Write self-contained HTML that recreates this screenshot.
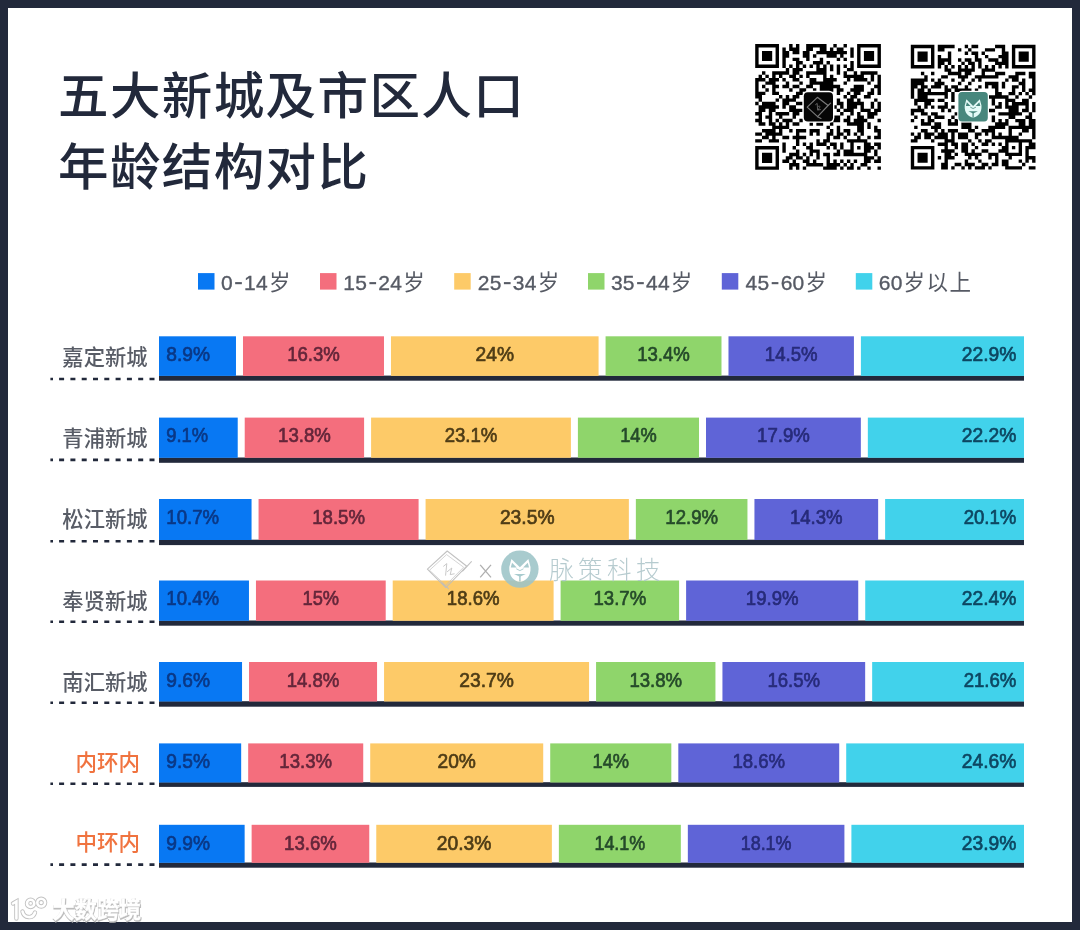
<!DOCTYPE html>
<html lang="zh">
<head>
<meta charset="utf-8">
<title>五大新城及市区人口年龄结构对比</title>
<style>
html,body{margin:0;padding:0;background:#22293b;}
body{width:1080px;height:930px;overflow:hidden;font-family:"Liberation Sans",sans-serif;}
svg{display:block;font-family:"Liberation Sans",sans-serif;filter:blur(0.45px);}
.cjk{font-family:"Liberation Sans","Noto Sans CJK SC",sans-serif;}
</style>
</head>
<body>
<svg width="1080" height="930" viewBox="0 0 1080 930">
<rect x="0" y="0" width="1080" height="930" fill="#22293b"/>
<rect x="8" y="8" width="1064" height="914" fill="#ffffff"/>
<g fill="#22293b">
<text class="cjk" x="58.00" y="113.50" font-size="50.50" font-weight="500" textLength="465.70" stroke="none">五大新城及市区人口</text>
</g>
<g fill="#22293b">
<text class="cjk" x="58.00" y="184.50" font-size="50.50" font-weight="500" textLength="310.00" stroke="none">年龄结构对比</text>
</g>
<rect x="198.0" y="273.1" width="16.5" height="16.5" fill="#0878f3"/>
<rect x="235.15" y="282.1" width="6.7" height="2.1" fill="#565a64"/>
<text x="220.90 244.10 256.05" y="289.90" font-size="21.00" fill="#565a64" stroke="#565a64" stroke-width="0.35">014</text>
<g fill="#565a64">
<text class="cjk" x="268.90" y="290.20" font-size="21.50" textLength="21.50" stroke="none">岁</text>
</g>
<rect x="320.0" y="273.1" width="16.5" height="16.5" fill="#f46e7d"/>
<rect x="369.40" y="282.1" width="6.7" height="2.1" fill="#565a64"/>
<text x="343.20 355.15 378.35 390.30" y="289.90" font-size="21.00" fill="#565a64" stroke="#565a64" stroke-width="0.35">1524</text>
<g fill="#565a64">
<text class="cjk" x="403.15" y="290.20" font-size="21.50" textLength="21.50" stroke="none">岁</text>
</g>
<rect x="454.2" y="273.1" width="16.5" height="16.5" fill="#fdca68"/>
<rect x="503.90" y="282.1" width="6.7" height="2.1" fill="#565a64"/>
<text x="477.70 489.65 512.85 524.80" y="289.90" font-size="21.00" fill="#565a64" stroke="#565a64" stroke-width="0.35">2534</text>
<g fill="#565a64">
<text class="cjk" x="537.65" y="290.20" font-size="21.50" textLength="21.50" stroke="none">岁</text>
</g>
<rect x="588.0" y="273.1" width="16.5" height="16.5" fill="#8fd56b"/>
<rect x="637.10" y="282.1" width="6.7" height="2.1" fill="#565a64"/>
<text x="610.90 622.85 646.05 658.00" y="289.90" font-size="21.00" fill="#565a64" stroke="#565a64" stroke-width="0.35">3544</text>
<g fill="#565a64">
<text class="cjk" x="670.85" y="290.20" font-size="21.50" textLength="21.50" stroke="none">岁</text>
</g>
<rect x="721.8" y="273.1" width="16.5" height="16.5" fill="#5f64d7"/>
<rect x="771.70" y="282.1" width="6.7" height="2.1" fill="#565a64"/>
<text x="745.50 757.45 780.65 792.60" y="289.90" font-size="21.00" fill="#565a64" stroke="#565a64" stroke-width="0.35">4560</text>
<g fill="#565a64">
<text class="cjk" x="805.45" y="290.20" font-size="21.50" textLength="21.50" stroke="none">岁</text>
</g>
<rect x="855.8" y="273.1" width="16.5" height="16.5" fill="#41d2eb"/>
<text x="878.70 890.65" y="289.90" font-size="21.00" fill="#565a64" stroke="#565a64" stroke-width="0.35">60</text>
<g fill="#565a64">
<text class="cjk" x="903.50" y="290.20" font-size="21.50" textLength="67.50" stroke="none">岁以上</text>
</g>
<line x1="50.4" x2="156" y1="379.00" y2="379.00" stroke="#22293b" stroke-width="2.6" stroke-dasharray="2.6 6.1 5 6.3 5 6.3 5 6.3 5 6.3 5 6.3 5 6.3 5 6.3 5 6.3 5 200"/>
<rect x="159.0" y="375.60" width="865.0" height="5.10" fill="#22293b"/>
<rect x="159.00" y="336.30" width="76.98" height="39.60" fill="#0878f3"/>
<text x="166.30" y="361.10" font-size="20.60" fill="#0a3886" stroke="#0a3886" stroke-width="0.7" stroke-linejoin="round" textLength="43.70" lengthAdjust="spacingAndGlyphs">8.9%</text>
<rect x="242.99" y="336.30" width="141.00" height="39.60" fill="#f46e7d"/>
<text x="287.13" y="361.10" font-size="20.60" fill="#64263a" stroke="#64263a" stroke-width="0.7" stroke-linejoin="round" textLength="52.70" lengthAdjust="spacingAndGlyphs">16.3%</text>
<rect x="390.98" y="336.30" width="207.60" height="39.60" fill="#fdca68"/>
<text x="475.58" y="361.10" font-size="20.60" fill="#4e3c16" stroke="#4e3c16" stroke-width="0.7" stroke-linejoin="round" textLength="38.40" lengthAdjust="spacingAndGlyphs">24%</text>
<rect x="605.58" y="336.30" width="115.91" height="39.60" fill="#8fd56b"/>
<text x="637.19" y="361.10" font-size="20.60" fill="#254a2a" stroke="#254a2a" stroke-width="0.7" stroke-linejoin="round" textLength="52.70" lengthAdjust="spacingAndGlyphs">13.4%</text>
<rect x="728.49" y="336.30" width="125.43" height="39.60" fill="#5f64d7"/>
<text x="764.85" y="361.10" font-size="20.60" fill="#272b7a" stroke="#272b7a" stroke-width="0.7" stroke-linejoin="round" textLength="52.70" lengthAdjust="spacingAndGlyphs">14.5%</text>
<rect x="860.91" y="336.30" width="163.09" height="39.60" fill="#41d2eb"/>
<text x="961.80" y="361.10" font-size="20.60" fill="#0d4661" stroke="#0d4661" stroke-width="0.7" stroke-linejoin="round" textLength="54.60" lengthAdjust="spacingAndGlyphs">22.9%</text>
<g fill="#585c66">
<text class="cjk" x="62.33" y="364.65" font-size="21.30" font-weight="500" textLength="85.20" stroke="none">嘉定新城</text>
</g>
<line x1="50.4" x2="156" y1="459.90" y2="459.90" stroke="#22293b" stroke-width="2.6" stroke-dasharray="2.6 6.1 5 6.3 5 6.3 5 6.3 5 6.3 5 6.3 5 6.3 5 6.3 5 6.3 5 200"/>
<rect x="159.0" y="457.50" width="865.0" height="5.30" fill="#22293b"/>
<rect x="159.00" y="417.60" width="78.72" height="40.20" fill="#0878f3"/>
<text x="166.30" y="442.40" font-size="20.60" fill="#0a3886" stroke="#0a3886" stroke-width="0.7" stroke-linejoin="round" textLength="41.80" lengthAdjust="spacingAndGlyphs">9.1%</text>
<rect x="244.72" y="417.60" width="119.37" height="40.20" fill="#f46e7d"/>
<text x="278.05" y="442.40" font-size="20.60" fill="#64263a" stroke="#64263a" stroke-width="0.7" stroke-linejoin="round" textLength="52.70" lengthAdjust="spacingAndGlyphs">13.8%</text>
<rect x="371.09" y="417.60" width="199.82" height="40.20" fill="#fdca68"/>
<text x="444.64" y="442.40" font-size="20.60" fill="#4e3c16" stroke="#4e3c16" stroke-width="0.7" stroke-linejoin="round" textLength="52.70" lengthAdjust="spacingAndGlyphs">23.1%</text>
<rect x="577.90" y="417.60" width="121.10" height="40.20" fill="#8fd56b"/>
<text x="620.20" y="442.40" font-size="20.60" fill="#254a2a" stroke="#254a2a" stroke-width="0.7" stroke-linejoin="round" textLength="36.50" lengthAdjust="spacingAndGlyphs">14%</text>
<rect x="706.00" y="417.60" width="154.84" height="40.20" fill="#5f64d7"/>
<text x="757.07" y="442.40" font-size="20.60" fill="#272b7a" stroke="#272b7a" stroke-width="0.7" stroke-linejoin="round" textLength="52.70" lengthAdjust="spacingAndGlyphs">17.9%</text>
<rect x="867.84" y="417.60" width="156.16" height="40.20" fill="#41d2eb"/>
<text x="961.80" y="442.40" font-size="20.60" fill="#0d4661" stroke="#0d4661" stroke-width="0.7" stroke-linejoin="round" textLength="54.60" lengthAdjust="spacingAndGlyphs">22.2%</text>
<g fill="#585c66">
<text class="cjk" x="62.33" y="445.95" font-size="21.30" font-weight="500" textLength="85.20" stroke="none">青浦新城</text>
</g>
<line x1="50.4" x2="156" y1="541.20" y2="541.20" stroke="#22293b" stroke-width="2.6" stroke-dasharray="2.6 6.1 5 6.3 5 6.3 5 6.3 5 6.3 5 6.3 5 6.3 5 6.3 5 6.3 5 200"/>
<rect x="159.0" y="539.70" width="865.0" height="5.40" fill="#22293b"/>
<rect x="159.00" y="499.00" width="92.55" height="41.00" fill="#0878f3"/>
<text x="166.30" y="523.80" font-size="20.60" fill="#0a3886" stroke="#0a3886" stroke-width="0.7" stroke-linejoin="round" textLength="52.70" lengthAdjust="spacingAndGlyphs">10.7%</text>
<rect x="258.56" y="499.00" width="160.03" height="41.00" fill="#f46e7d"/>
<text x="312.22" y="523.80" font-size="20.60" fill="#64263a" stroke="#64263a" stroke-width="0.7" stroke-linejoin="round" textLength="52.70" lengthAdjust="spacingAndGlyphs">18.5%</text>
<rect x="425.58" y="499.00" width="203.28" height="41.00" fill="#fdca68"/>
<text x="499.92" y="523.80" font-size="20.60" fill="#4e3c16" stroke="#4e3c16" stroke-width="0.7" stroke-linejoin="round" textLength="54.60" lengthAdjust="spacingAndGlyphs">23.5%</text>
<rect x="635.86" y="499.00" width="111.59" height="41.00" fill="#8fd56b"/>
<text x="665.30" y="523.80" font-size="20.60" fill="#254a2a" stroke="#254a2a" stroke-width="0.7" stroke-linejoin="round" textLength="52.70" lengthAdjust="spacingAndGlyphs">12.9%</text>
<rect x="754.44" y="499.00" width="123.70" height="41.00" fill="#5f64d7"/>
<text x="789.94" y="523.80" font-size="20.60" fill="#272b7a" stroke="#272b7a" stroke-width="0.7" stroke-linejoin="round" textLength="52.70" lengthAdjust="spacingAndGlyphs">14.3%</text>
<rect x="885.13" y="499.00" width="138.87" height="41.00" fill="#41d2eb"/>
<text x="963.70" y="523.80" font-size="20.60" fill="#0d4661" stroke="#0d4661" stroke-width="0.7" stroke-linejoin="round" textLength="52.70" lengthAdjust="spacingAndGlyphs">20.1%</text>
<g fill="#585c66">
<text class="cjk" x="62.33" y="527.35" font-size="21.30" font-weight="500" textLength="85.20" stroke="none">松江新城</text>
</g>
<line x1="50.4" x2="156" y1="621.80" y2="621.80" stroke="#22293b" stroke-width="2.6" stroke-dasharray="2.6 6.1 5 6.3 5 6.3 5 6.3 5 6.3 5 6.3 5 6.3 5 6.3 5 6.3 5 200"/>
<rect x="159.0" y="620.50" width="865.0" height="5.20" fill="#22293b"/>
<rect x="159.00" y="580.50" width="89.96" height="40.30" fill="#0878f3"/>
<text x="166.30" y="605.30" font-size="20.60" fill="#0a3886" stroke="#0a3886" stroke-width="0.7" stroke-linejoin="round" textLength="52.70" lengthAdjust="spacingAndGlyphs">10.4%</text>
<rect x="255.96" y="580.50" width="129.75" height="40.30" fill="#f46e7d"/>
<text x="302.59" y="605.30" font-size="20.60" fill="#64263a" stroke="#64263a" stroke-width="0.7" stroke-linejoin="round" textLength="36.50" lengthAdjust="spacingAndGlyphs">15%</text>
<rect x="392.71" y="580.50" width="160.89" height="40.30" fill="#fdca68"/>
<text x="446.81" y="605.30" font-size="20.60" fill="#4e3c16" stroke="#4e3c16" stroke-width="0.7" stroke-linejoin="round" textLength="52.70" lengthAdjust="spacingAndGlyphs">18.6%</text>
<rect x="560.60" y="580.50" width="118.50" height="40.30" fill="#8fd56b"/>
<text x="593.50" y="605.30" font-size="20.60" fill="#254a2a" stroke="#254a2a" stroke-width="0.7" stroke-linejoin="round" textLength="52.70" lengthAdjust="spacingAndGlyphs">13.7%</text>
<rect x="686.11" y="580.50" width="172.13" height="40.30" fill="#5f64d7"/>
<text x="745.82" y="605.30" font-size="20.60" fill="#272b7a" stroke="#272b7a" stroke-width="0.7" stroke-linejoin="round" textLength="52.70" lengthAdjust="spacingAndGlyphs">19.9%</text>
<rect x="865.24" y="580.50" width="158.76" height="40.30" fill="#41d2eb"/>
<text x="961.80" y="605.30" font-size="20.60" fill="#0d4661" stroke="#0d4661" stroke-width="0.7" stroke-linejoin="round" textLength="54.60" lengthAdjust="spacingAndGlyphs">22.4%</text>
<g fill="#585c66">
<text class="cjk" x="62.33" y="608.85" font-size="21.30" font-weight="500" textLength="85.20" stroke="none">奉贤新城</text>
</g>
<line x1="50.4" x2="156" y1="702.70" y2="702.70" stroke="#22293b" stroke-width="2.6" stroke-dasharray="2.6 6.1 5 6.3 5 6.3 5 6.3 5 6.3 5 6.3 5 6.3 5 6.3 5 6.3 5 200"/>
<rect x="159.0" y="701.20" width="865.0" height="5.50" fill="#22293b"/>
<rect x="159.00" y="662.00" width="83.04" height="39.50" fill="#0878f3"/>
<text x="166.30" y="686.80" font-size="20.60" fill="#0a3886" stroke="#0a3886" stroke-width="0.7" stroke-linejoin="round" textLength="43.70" lengthAdjust="spacingAndGlyphs">9.6%</text>
<rect x="249.04" y="662.00" width="128.02" height="39.50" fill="#f46e7d"/>
<text x="286.70" y="686.80" font-size="20.60" fill="#64263a" stroke="#64263a" stroke-width="0.7" stroke-linejoin="round" textLength="52.70" lengthAdjust="spacingAndGlyphs">14.8%</text>
<rect x="384.06" y="662.00" width="205.00" height="39.50" fill="#fdca68"/>
<text x="459.26" y="686.80" font-size="20.60" fill="#4e3c16" stroke="#4e3c16" stroke-width="0.7" stroke-linejoin="round" textLength="54.60" lengthAdjust="spacingAndGlyphs">23.7%</text>
<rect x="596.07" y="662.00" width="119.37" height="39.50" fill="#8fd56b"/>
<text x="629.40" y="686.80" font-size="20.60" fill="#254a2a" stroke="#254a2a" stroke-width="0.7" stroke-linejoin="round" textLength="52.70" lengthAdjust="spacingAndGlyphs">13.8%</text>
<rect x="722.44" y="662.00" width="142.72" height="39.50" fill="#5f64d7"/>
<text x="767.45" y="686.80" font-size="20.60" fill="#272b7a" stroke="#272b7a" stroke-width="0.7" stroke-linejoin="round" textLength="52.70" lengthAdjust="spacingAndGlyphs">16.5%</text>
<rect x="872.16" y="662.00" width="151.84" height="39.50" fill="#41d2eb"/>
<text x="963.70" y="686.80" font-size="20.60" fill="#0d4661" stroke="#0d4661" stroke-width="0.7" stroke-linejoin="round" textLength="52.70" lengthAdjust="spacingAndGlyphs">21.6%</text>
<g fill="#585c66">
<text class="cjk" x="62.33" y="690.35" font-size="21.30" font-weight="500" textLength="85.20" stroke="none">南汇新城</text>
</g>
<line x1="50.4" x2="156" y1="783.70" y2="783.70" stroke="#22293b" stroke-width="2.6" stroke-dasharray="2.6 6.1 5 6.3 5 6.3 5 6.3 5 6.3 5 6.3 5 6.3 5 6.3 5 6.3 5 200"/>
<rect x="159.0" y="782.20" width="865.0" height="4.70" fill="#22293b"/>
<rect x="159.00" y="743.40" width="82.17" height="39.10" fill="#0878f3"/>
<text x="166.30" y="768.20" font-size="20.60" fill="#0a3886" stroke="#0a3886" stroke-width="0.7" stroke-linejoin="round" textLength="43.70" lengthAdjust="spacingAndGlyphs">9.5%</text>
<rect x="248.18" y="743.40" width="115.05" height="39.10" fill="#f46e7d"/>
<text x="279.35" y="768.20" font-size="20.60" fill="#64263a" stroke="#64263a" stroke-width="0.7" stroke-linejoin="round" textLength="52.70" lengthAdjust="spacingAndGlyphs">13.3%</text>
<rect x="370.22" y="743.40" width="173.00" height="39.10" fill="#fdca68"/>
<text x="437.52" y="768.20" font-size="20.60" fill="#4e3c16" stroke="#4e3c16" stroke-width="0.7" stroke-linejoin="round" textLength="38.40" lengthAdjust="spacingAndGlyphs">20%</text>
<rect x="550.22" y="743.40" width="121.10" height="39.10" fill="#8fd56b"/>
<text x="592.52" y="768.20" font-size="20.60" fill="#254a2a" stroke="#254a2a" stroke-width="0.7" stroke-linejoin="round" textLength="36.50" lengthAdjust="spacingAndGlyphs">14%</text>
<rect x="678.32" y="743.40" width="160.89" height="39.10" fill="#5f64d7"/>
<text x="732.42" y="768.20" font-size="20.60" fill="#272b7a" stroke="#272b7a" stroke-width="0.7" stroke-linejoin="round" textLength="52.70" lengthAdjust="spacingAndGlyphs">18.6%</text>
<rect x="846.21" y="743.40" width="177.79" height="39.10" fill="#41d2eb"/>
<text x="961.80" y="768.20" font-size="20.60" fill="#0d4661" stroke="#0d4661" stroke-width="0.7" stroke-linejoin="round" textLength="54.60" lengthAdjust="spacingAndGlyphs">24.6%</text>
<g fill="#f0733f">
<text class="cjk" x="75.48" y="769.70" font-size="21.50" font-weight="500" textLength="64.50" stroke="none">内环内</text>
</g>
<line x1="50.4" x2="156" y1="864.60" y2="864.60" stroke="#22293b" stroke-width="2.6" stroke-dasharray="2.6 6.1 5 6.3 5 6.3 5 6.3 5 6.3 5 6.3 5 6.3 5 6.3 5 6.3 5 200"/>
<rect x="159.0" y="862.50" width="865.0" height="5.20" fill="#22293b"/>
<rect x="159.00" y="824.80" width="85.64" height="38.00" fill="#0878f3"/>
<text x="166.30" y="849.60" font-size="20.60" fill="#0a3886" stroke="#0a3886" stroke-width="0.7" stroke-linejoin="round" textLength="43.70" lengthAdjust="spacingAndGlyphs">9.9%</text>
<rect x="251.63" y="824.80" width="117.64" height="38.00" fill="#f46e7d"/>
<text x="284.10" y="849.60" font-size="20.60" fill="#64263a" stroke="#64263a" stroke-width="0.7" stroke-linejoin="round" textLength="52.70" lengthAdjust="spacingAndGlyphs">13.6%</text>
<rect x="376.27" y="824.80" width="175.60" height="38.00" fill="#fdca68"/>
<text x="436.77" y="849.60" font-size="20.60" fill="#4e3c16" stroke="#4e3c16" stroke-width="0.7" stroke-linejoin="round" textLength="54.60" lengthAdjust="spacingAndGlyphs">20.3%</text>
<rect x="558.87" y="824.80" width="121.97" height="38.00" fill="#8fd56b"/>
<text x="594.45" y="849.60" font-size="20.60" fill="#254a2a" stroke="#254a2a" stroke-width="0.7" stroke-linejoin="round" textLength="50.80" lengthAdjust="spacingAndGlyphs">14.1%</text>
<rect x="687.84" y="824.80" width="156.57" height="38.00" fill="#5f64d7"/>
<text x="740.72" y="849.60" font-size="20.60" fill="#272b7a" stroke="#272b7a" stroke-width="0.7" stroke-linejoin="round" textLength="50.80" lengthAdjust="spacingAndGlyphs">18.1%</text>
<rect x="851.40" y="824.80" width="172.60" height="38.00" fill="#41d2eb"/>
<text x="961.80" y="849.60" font-size="20.60" fill="#0d4661" stroke="#0d4661" stroke-width="0.7" stroke-linejoin="round" textLength="54.60" lengthAdjust="spacingAndGlyphs">23.9%</text>
<g fill="#f0733f">
<text class="cjk" x="75.48" y="850.20" font-size="21.50" font-weight="500" textLength="64.50" stroke="none">中环内</text>
</g>
<defs><filter id="qb" x="-2%" y="-2%" width="104%" height="104%"><feGaussianBlur stdDeviation="0.3"/></filter><filter id="wb" x="-10%" y="-30%" width="120%" height="160%"><feGaussianBlur stdDeviation="0.7"/></filter></defs>
<g filter="url(#qb)"><g transform="translate(755.20 44.10) scale(3.3973)"><path d="M0 0h7v1h-7zM10 0h1v1h-1zM12 0h1v1h-1zM15 0h6v1h-6zM23 0h1v1h-1zM26 0h1v1h-1zM30 0h7v1h-7zM0 1h1v1h-1zM6 1h1v1h-1zM8 1h1v1h-1zM10 1h3v1h-3zM15 1h2v1h-2zM19 1h2v1h-2zM22 1h1v1h-1zM24 1h2v1h-2zM28 1h1v1h-1zM30 1h1v1h-1zM36 1h1v1h-1zM0 2h1v1h-1zM2 2h3v1h-3zM6 2h1v1h-1zM8 2h2v1h-2zM11 2h2v1h-2zM14 2h2v1h-2zM18 2h9v1h-9zM28 2h1v1h-1zM30 2h1v1h-1zM32 2h3v1h-3zM36 2h1v1h-1zM0 3h1v1h-1zM2 3h3v1h-3zM6 3h1v1h-1zM8 3h2v1h-2zM14 3h2v1h-2zM17 3h1v1h-1zM21 3h3v1h-3zM25 3h1v1h-1zM28 3h1v1h-1zM30 3h1v1h-1zM32 3h3v1h-3zM36 3h1v1h-1zM0 4h1v1h-1zM2 4h3v1h-3zM6 4h1v1h-1zM8 4h1v1h-1zM11 4h2v1h-2zM15 4h1v1h-1zM19 4h1v1h-1zM24 4h1v1h-1zM26 4h1v1h-1zM30 4h1v1h-1zM32 4h3v1h-3zM36 4h1v1h-1zM0 5h1v1h-1zM6 5h1v1h-1zM8 5h1v1h-1zM12 5h2v1h-2zM17 5h3v1h-3zM21 5h1v1h-1zM28 5h1v1h-1zM30 5h1v1h-1zM36 5h1v1h-1zM0 6h7v1h-7zM8 6h1v1h-1zM10 6h1v1h-1zM12 6h1v1h-1zM14 6h1v1h-1zM16 6h1v1h-1zM18 6h1v1h-1zM20 6h1v1h-1zM22 6h1v1h-1zM24 6h1v1h-1zM26 6h1v1h-1zM28 6h1v1h-1zM30 6h7v1h-7zM9 7h1v1h-1zM11 7h3v1h-3zM18 7h3v1h-3zM22 7h1v1h-1zM24 7h1v1h-1zM27 7h2v1h-2zM2 8h1v1h-1zM5 8h5v1h-5zM11 8h2v1h-2zM15 8h6v1h-6zM24 8h1v1h-1zM26 8h1v1h-1zM29 8h1v1h-1zM31 8h5v1h-5zM1 9h1v1h-1zM3 9h1v1h-1zM5 9h1v1h-1zM7 9h1v1h-1zM10 9h2v1h-2zM13 9h1v1h-1zM15 9h1v1h-1zM20 9h1v1h-1zM22 9h1v1h-1zM26 9h6v1h-6zM34 9h1v1h-1zM36 9h1v1h-1zM0 10h3v1h-3zM4 10h3v1h-3zM8 10h1v1h-1zM11 10h2v1h-2zM16 10h2v1h-2zM20 10h4v1h-4zM27 10h1v1h-1zM29 10h4v1h-4zM34 10h1v1h-1zM36 10h1v1h-1zM0 11h1v1h-1zM3 11h3v1h-3zM9 11h1v1h-1zM13 11h1v1h-1zM16 11h7v1h-7zM26 11h1v1h-1zM33 11h1v1h-1zM36 11h1v1h-1zM0 12h1v1h-1zM2 12h1v1h-1zM5 12h2v1h-2zM8 12h2v1h-2zM11 12h2v1h-2zM15 12h2v1h-2zM19 12h6v1h-6zM29 12h3v1h-3zM35 12h2v1h-2zM0 13h1v1h-1zM3 13h1v1h-1zM5 13h1v1h-1zM10 13h1v1h-1zM13 13h2v1h-2zM17 13h1v1h-1zM19 13h4v1h-4zM24 13h2v1h-2zM28 13h4v1h-4zM34 13h1v1h-1zM36 13h1v1h-1zM0 14h3v1h-3zM5 14h2v1h-2zM12 14h2v1h-2zM24 14h1v1h-1zM27 14h1v1h-1zM29 14h2v1h-2zM33 14h2v1h-2zM36 14h1v1h-1zM0 15h2v1h-2zM7 15h1v1h-1zM9 15h1v1h-1zM11 15h2v1h-2zM26 15h1v1h-1zM28 15h2v1h-2zM32 15h2v1h-2zM1 16h1v1h-1zM6 16h1v1h-1zM8 16h4v1h-4zM24 16h1v1h-1zM27 16h2v1h-2zM30 16h1v1h-1zM35 16h1v1h-1zM0 17h1v1h-1zM2 17h4v1h-4zM8 17h2v1h-2zM12 17h2v1h-2zM24 17h2v1h-2zM27 17h5v1h-5zM34 17h1v1h-1zM36 17h1v1h-1zM1 18h6v1h-6zM8 18h1v1h-1zM10 18h2v1h-2zM23 18h1v1h-1zM25 18h1v1h-1zM27 18h3v1h-3zM31 18h1v1h-1zM34 18h1v1h-1zM36 18h1v1h-1zM1 19h2v1h-2zM4 19h2v1h-2zM10 19h4v1h-4zM24 19h1v1h-1zM26 19h3v1h-3zM31 19h3v1h-3zM35 19h2v1h-2zM0 20h2v1h-2zM4 20h1v1h-1zM6 20h4v1h-4zM11 20h2v1h-2zM25 20h1v1h-1zM28 20h1v1h-1zM30 20h1v1h-1zM33 20h3v1h-3zM1 21h1v1h-1zM3 21h2v1h-2zM7 21h1v1h-1zM11 21h1v1h-1zM23 21h2v1h-2zM27 21h1v1h-1zM30 21h2v1h-2zM33 21h2v1h-2zM0 22h2v1h-2zM4 22h1v1h-1zM6 22h1v1h-1zM8 22h3v1h-3zM13 22h1v1h-1zM23 22h2v1h-2zM26 22h2v1h-2zM29 22h4v1h-4zM36 22h1v1h-1zM1 23h2v1h-2zM4 23h2v1h-2zM7 23h1v1h-1zM9 23h1v1h-1zM11 23h2v1h-2zM16 23h1v1h-1zM18 23h2v1h-2zM22 23h1v1h-1zM27 23h5v1h-5zM33 23h1v1h-1zM5 24h5v1h-5zM21 24h1v1h-1zM24 24h1v1h-1zM30 24h2v1h-2zM33 24h1v1h-1zM35 24h1v1h-1zM2 25h4v1h-4zM7 25h1v1h-1zM10 25h1v1h-1zM12 25h3v1h-3zM16 25h3v1h-3zM22 25h1v1h-1zM24 25h1v1h-1zM26 25h2v1h-2zM30 25h2v1h-2zM35 25h2v1h-2zM0 26h2v1h-2zM3 26h5v1h-5zM12 26h1v1h-1zM16 26h1v1h-1zM18 26h1v1h-1zM21 26h2v1h-2zM24 26h2v1h-2zM27 26h1v1h-1zM29 26h1v1h-1zM31 26h1v1h-1zM36 26h1v1h-1zM2 27h2v1h-2zM5 27h1v1h-1zM8 27h2v1h-2zM11 27h4v1h-4zM21 27h1v1h-1zM23 27h2v1h-2zM26 27h1v1h-1zM30 27h1v1h-1zM33 27h1v1h-1zM35 27h2v1h-2zM0 28h2v1h-2zM4 28h3v1h-3zM12 28h1v1h-1zM18 28h1v1h-1zM20 28h2v1h-2zM27 28h6v1h-6zM8 29h1v1h-1zM12 29h1v1h-1zM14 29h1v1h-1zM16 29h1v1h-1zM18 29h3v1h-3zM22 29h2v1h-2zM25 29h1v1h-1zM28 29h1v1h-1zM32 29h2v1h-2zM35 29h2v1h-2zM0 30h7v1h-7zM8 30h1v1h-1zM11 30h1v1h-1zM15 30h2v1h-2zM21 30h1v1h-1zM23 30h1v1h-1zM25 30h1v1h-1zM28 30h1v1h-1zM30 30h1v1h-1zM32 30h3v1h-3zM36 30h1v1h-1zM0 31h1v1h-1zM6 31h1v1h-1zM8 31h1v1h-1zM12 31h1v1h-1zM16 31h3v1h-3zM24 31h1v1h-1zM26 31h3v1h-3zM32 31h2v1h-2zM35 31h1v1h-1zM0 32h1v1h-1zM2 32h3v1h-3zM6 32h1v1h-1zM10 32h3v1h-3zM14 32h1v1h-1zM16 32h1v1h-1zM18 32h1v1h-1zM20 32h2v1h-2zM23 32h2v1h-2zM26 32h7v1h-7zM35 32h1v1h-1zM0 33h1v1h-1zM2 33h3v1h-3zM6 33h1v1h-1zM9 33h2v1h-2zM12 33h2v1h-2zM15 33h1v1h-1zM18 33h1v1h-1zM21 33h1v1h-1zM32 33h3v1h-3zM36 33h1v1h-1zM0 34h1v1h-1zM2 34h3v1h-3zM6 34h1v1h-1zM8 34h2v1h-2zM11 34h1v1h-1zM14 34h2v1h-2zM17 34h1v1h-1zM21 34h1v1h-1zM23 34h1v1h-1zM25 34h1v1h-1zM27 34h1v1h-1zM29 34h1v1h-1zM32 34h2v1h-2zM35 34h2v1h-2zM0 35h1v1h-1zM6 35h1v1h-1zM10 35h3v1h-3zM15 35h5v1h-5zM21 35h4v1h-4zM26 35h1v1h-1zM28 35h1v1h-1zM31 35h2v1h-2zM0 36h7v1h-7zM10 36h1v1h-1zM12 36h1v1h-1zM14 36h1v1h-1zM20 36h4v1h-4zM25 36h1v1h-1zM27 36h2v1h-2zM30 36h1v1h-1zM33 36h1v1h-1zM36 36h1v1h-1z" fill="#050505"/></g></g>
<rect x="802.4" y="90.8" width="32.0" height="32.0" rx="5.4" fill="#ffffff"/>
<rect x="803.8" y="92.2" width="29.2" height="29.2" rx="4.0" fill="#060606"/>
<g fill="none" stroke="#7a7a7a" stroke-width="1.15" stroke-linecap="round" stroke-linejoin="round"><path d="M807.2 107.2 L817.4 97.3 L828.1 105.5 L817.6 116.7 Z"/><path d="M828.1 105.5 L830.6 103.2 M817.6 116.7 L821.0 118.5"/><path d="M815.6 104.6 l1.6 -1.2 l0.4 6.6 M817.8 107.0 c1.4 -2.2 3.2 -0.6 1.2 1.4 l-0.8 1.6 l2.2 -0.4" stroke="#6a6a6a" stroke-width="0.9"/></g>
<g filter="url(#qb)"><g transform="translate(910.80 44.80) scale(3.3703)"><path d="M0 0h7v1h-7zM8 0h5v1h-5zM16 0h1v1h-1zM18 0h2v1h-2zM25 0h3v1h-3zM30 0h7v1h-7zM0 1h1v1h-1zM6 1h1v1h-1zM8 1h2v1h-2zM14 1h1v1h-1zM17 1h1v1h-1zM22 1h3v1h-3zM27 1h1v1h-1zM30 1h1v1h-1zM36 1h1v1h-1zM0 2h1v1h-1zM2 2h3v1h-3zM6 2h1v1h-1zM11 2h1v1h-1zM16 2h1v1h-1zM18 2h2v1h-2zM21 2h1v1h-1zM27 2h2v1h-2zM30 2h1v1h-1zM32 2h3v1h-3zM36 2h1v1h-1zM0 3h1v1h-1zM2 3h3v1h-3zM6 3h1v1h-1zM8 3h1v1h-1zM11 3h1v1h-1zM19 3h1v1h-1zM22 3h1v1h-1zM26 3h3v1h-3zM30 3h1v1h-1zM32 3h3v1h-3zM36 3h1v1h-1zM0 4h1v1h-1zM2 4h3v1h-3zM6 4h1v1h-1zM8 4h4v1h-4zM14 4h1v1h-1zM16 4h2v1h-2zM19 4h2v1h-2zM23 4h3v1h-3zM27 4h2v1h-2zM30 4h1v1h-1zM32 4h3v1h-3zM36 4h1v1h-1zM0 5h1v1h-1zM6 5h1v1h-1zM8 5h2v1h-2zM11 5h1v1h-1zM15 5h1v1h-1zM17 5h2v1h-2zM20 5h1v1h-1zM25 5h4v1h-4zM30 5h1v1h-1zM36 5h1v1h-1zM0 6h7v1h-7zM8 6h1v1h-1zM10 6h1v1h-1zM12 6h1v1h-1zM14 6h1v1h-1zM16 6h1v1h-1zM18 6h1v1h-1zM20 6h1v1h-1zM22 6h1v1h-1zM24 6h1v1h-1zM26 6h1v1h-1zM28 6h1v1h-1zM30 6h7v1h-7zM10 7h2v1h-2zM14 7h5v1h-5zM21 7h4v1h-4zM3 8h1v1h-1zM6 8h1v1h-1zM11 8h4v1h-4zM16 8h2v1h-2zM21 8h1v1h-1zM25 8h3v1h-3zM31 8h3v1h-3zM35 8h2v1h-2zM4 9h1v1h-1zM9 9h2v1h-2zM14 9h3v1h-3zM19 9h7v1h-7zM29 9h3v1h-3zM35 9h2v1h-2zM0 10h5v1h-5zM6 10h1v1h-1zM8 10h1v1h-1zM12 10h1v1h-1zM15 10h1v1h-1zM18 10h1v1h-1zM20 10h1v1h-1zM28 10h1v1h-1zM30 10h2v1h-2zM33 10h1v1h-1zM36 10h1v1h-1zM0 11h4v1h-4zM7 11h3v1h-3zM14 11h1v1h-1zM17 11h1v1h-1zM22 11h4v1h-4zM27 11h1v1h-1zM32 11h2v1h-2zM36 11h1v1h-1zM0 12h2v1h-2zM3 12h2v1h-2zM6 12h3v1h-3zM10 12h1v1h-1zM12 12h2v1h-2zM16 12h1v1h-1zM20 12h1v1h-1zM22 12h1v1h-1zM24 12h2v1h-2zM27 12h1v1h-1zM30 12h2v1h-2zM33 12h1v1h-1zM36 12h1v1h-1zM0 13h1v1h-1zM2 13h2v1h-2zM5 13h1v1h-1zM10 13h2v1h-2zM13 13h5v1h-5zM19 13h1v1h-1zM25 13h1v1h-1zM30 13h1v1h-1zM33 13h1v1h-1zM35 13h2v1h-2zM0 14h1v1h-1zM2 14h9v1h-9zM12 14h1v1h-1zM25 14h2v1h-2zM29 14h2v1h-2zM32 14h1v1h-1zM34 14h1v1h-1zM36 14h1v1h-1zM0 15h1v1h-1zM2 15h3v1h-3zM10 15h1v1h-1zM12 15h1v1h-1zM23 15h6v1h-6zM31 15h1v1h-1zM35 15h1v1h-1zM1 16h6v1h-6zM8 16h2v1h-2zM12 16h1v1h-1zM24 16h1v1h-1zM28 16h3v1h-3zM33 16h2v1h-2zM1 17h1v1h-1zM4 17h2v1h-2zM10 17h1v1h-1zM24 17h1v1h-1zM26 17h1v1h-1zM28 17h1v1h-1zM30 17h5v1h-5zM36 17h1v1h-1zM2 18h1v1h-1zM4 18h1v1h-1zM6 18h1v1h-1zM8 18h3v1h-3zM12 18h1v1h-1zM25 18h2v1h-2zM28 18h4v1h-4zM34 18h1v1h-1zM36 18h1v1h-1zM0 19h4v1h-4zM9 19h1v1h-1zM11 19h1v1h-1zM23 19h2v1h-2zM29 19h3v1h-3zM33 19h2v1h-2zM36 19h1v1h-1zM0 20h1v1h-1zM3 20h2v1h-2zM6 20h2v1h-2zM13 20h1v1h-1zM26 20h7v1h-7zM35 20h1v1h-1zM1 21h1v1h-1zM5 21h1v1h-1zM7 21h3v1h-3zM12 21h1v1h-1zM24 21h1v1h-1zM29 21h2v1h-2zM34 21h2v1h-2zM0 22h1v1h-1zM3 22h1v1h-1zM5 22h2v1h-2zM11 22h1v1h-1zM13 22h1v1h-1zM24 22h1v1h-1zM26 22h1v1h-1zM28 22h1v1h-1zM31 22h3v1h-3zM35 22h2v1h-2zM3 23h3v1h-3zM7 23h2v1h-2zM11 23h3v1h-3zM15 23h3v1h-3zM25 23h4v1h-4zM32 23h2v1h-2zM35 23h2v1h-2zM1 24h1v1h-1zM6 24h3v1h-3zM15 24h3v1h-3zM19 24h1v1h-1zM23 24h5v1h-5zM29 24h8v1h-8zM3 25h2v1h-2zM7 25h1v1h-1zM9 25h1v1h-1zM11 25h3v1h-3zM17 25h2v1h-2zM21 25h4v1h-4zM29 25h1v1h-1zM33 25h2v1h-2zM36 25h1v1h-1zM0 26h1v1h-1zM2 26h1v1h-1zM4 26h3v1h-3zM8 26h3v1h-3zM12 26h1v1h-1zM14 26h3v1h-3zM19 26h2v1h-2zM22 26h1v1h-1zM24 26h1v1h-1zM26 26h1v1h-1zM29 26h1v1h-1zM32 26h1v1h-1zM36 26h1v1h-1zM1 27h2v1h-2zM4 27h2v1h-2zM7 27h4v1h-4zM12 27h1v1h-1zM14 27h3v1h-3zM19 27h1v1h-1zM24 27h8v1h-8zM36 27h1v1h-1zM0 28h2v1h-2zM6 28h1v1h-1zM10 28h3v1h-3zM17 28h1v1h-1zM20 28h1v1h-1zM22 28h2v1h-2zM28 28h8v1h-8zM8 29h3v1h-3zM12 29h2v1h-2zM15 29h2v1h-2zM18 29h1v1h-1zM21 29h2v1h-2zM24 29h1v1h-1zM26 29h1v1h-1zM28 29h1v1h-1zM32 29h1v1h-1zM35 29h2v1h-2zM0 30h7v1h-7zM10 30h1v1h-1zM13 30h1v1h-1zM15 30h2v1h-2zM19 30h1v1h-1zM27 30h2v1h-2zM30 30h1v1h-1zM32 30h1v1h-1zM34 30h3v1h-3zM0 31h1v1h-1zM6 31h1v1h-1zM9 31h4v1h-4zM15 31h2v1h-2zM18 31h1v1h-1zM21 31h2v1h-2zM26 31h3v1h-3zM32 31h1v1h-1zM34 31h1v1h-1zM0 32h1v1h-1zM2 32h3v1h-3zM6 32h1v1h-1zM10 32h2v1h-2zM13 32h1v1h-1zM16 32h5v1h-5zM23 32h3v1h-3zM28 32h5v1h-5zM34 32h1v1h-1zM0 33h1v1h-1zM2 33h3v1h-3zM6 33h1v1h-1zM8 33h1v1h-1zM10 33h3v1h-3zM17 33h1v1h-1zM19 33h1v1h-1zM23 33h1v1h-1zM25 33h1v1h-1zM29 33h1v1h-1zM34 33h3v1h-3zM0 34h1v1h-1zM2 34h3v1h-3zM6 34h1v1h-1zM10 34h1v1h-1zM16 34h1v1h-1zM20 34h1v1h-1zM25 34h1v1h-1zM27 34h2v1h-2zM32 34h1v1h-1zM34 34h1v1h-1zM36 34h1v1h-1zM0 35h1v1h-1zM6 35h1v1h-1zM9 35h2v1h-2zM13 35h2v1h-2zM16 35h3v1h-3zM21 35h2v1h-2zM24 35h2v1h-2zM27 35h2v1h-2zM33 35h1v1h-1zM0 36h7v1h-7zM9 36h2v1h-2zM12 36h1v1h-1zM15 36h1v1h-1zM17 36h1v1h-1zM19 36h3v1h-3zM23 36h1v1h-1zM28 36h5v1h-5zM35 36h2v1h-2z" fill="#050505"/></g></g>
<rect x="957.2" y="90.8" width="31.8" height="31.8" rx="5" fill="#ffffff"/>
<rect x="958.4" y="91.9" width="29.4" height="29.5" rx="3.6" fill="#47877d"/>
<path d="M966.38 99.29 L973.10 105.89 L979.82 99.29 L981.50 105.61 C982.00 113.52 977.30 117.24 973.10 117.51 C968.90 117.24 964.20 113.52 964.70 105.61 Z" fill="#e4faf7"/><path d="M965.88 106.08 L970.58 106.08 L966.88 102.26 Z" fill="#47877d"/><path d="M980.32 106.08 L975.62 106.08 L979.32 102.26 Z" fill="#47877d"/><path d="M970.24 107.10 L973.10 108.59 L975.96 107.10" fill="none" stroke="#47877d" stroke-width="0.76"/><path d="M968.40 111.19 L977.80 111.19 L973.10 113.42 Z" fill="#47877d"/><path d="M973.10 112.59 L973.10 117.33" stroke="#47877d" stroke-width="1.18"/>
<g opacity="0.9">
<g fill="none" stroke="#bcbcbc" stroke-width="1.1" stroke-linecap="round" stroke-linejoin="round"><path d="M427.4 569.2 L447.2 551.0 L466.8 566.2 L445.8 587.6 Z"/><path d="M429.8 570.0 L446.6 554.6 L463.6 567.2 L446.0 585.0 Z" stroke-width="0.7"/><path d="M462.6 571.0 L471.4 561.6 M441.6 583.0 L448.6 588.6"/><path d="M443.6 566.2 l3.2 -2.6 l-1.2 11.6 M447.4 571.6 l4.4 -3.6 l-1.6 6.6 l4.0 -0.8" stroke-width="0.9"/></g>
<path d="M480.2 564.8 L491.0 577.4 M491.0 564.8 L480.2 577.4" stroke="#a6a6a6" stroke-width="1.3" fill="none"/>
</g>
<g opacity="0.88">
<circle cx="519.9" cy="569.1" r="18.7" fill="#9dc4c8"/>
<path d="M511.42 559.03 L519.90 567.27 L528.38 559.03 L530.50 566.92 C531.14 576.78 525.20 581.42 519.90 581.77 C514.60 581.42 508.66 576.78 509.30 566.92 Z" fill="#ffffff"/><path d="M510.78 567.50 L516.72 567.50 L512.06 562.74 Z" fill="#9dc4c8"/><path d="M529.02 567.50 L523.08 567.50 L527.74 562.74 Z" fill="#9dc4c8"/><path d="M516.30 568.78 L519.90 570.63 L523.50 568.78" fill="none" stroke="#9dc4c8" stroke-width="0.95"/><path d="M513.96 573.88 L525.84 573.88 L519.90 576.66 Z" fill="#9dc4c8"/><path d="M519.90 575.62 L519.90 581.54" stroke="#9dc4c8" stroke-width="1.48"/>
</g>
<text class="cjk" x="549.20" y="579.20" font-size="24.50" font-weight="300" fill="#b3c9cd" opacity="0.95" textLength="111.20">脉策科技</text>
<!-- 脉策科技 -->
<g>
<text class="cjk" x="52.90" y="918.60" font-size="22.20" font-weight="700" textLength="88.80" fill="#bdbdbd" stroke="#bdbdbd" stroke-width="1.55" filter="url(#wb)">大数跨境</text>
<text class="cjk" x="52.50" y="918.20" font-size="22.20" font-weight="700" textLength="88.80" fill="#ffffff" stroke="#ffffff" stroke-width="0.27">大数跨境</text>
</g>
<g fill="none" filter="url(#wb)" stroke="#c2c2c2" stroke-width="4.4" stroke-linecap="round"><path d="M13 903.5 l3.4 -2 v17"/><path d="M22.5 911.5 c1.5 7 10.5 7.5 12.5 1"/><circle cx="30.6" cy="903.4" r="3.6"/><circle cx="41.2" cy="902.6" r="3.9"/></g>
<g fill="none" stroke="#ffffff" stroke-width="2.6" stroke-linecap="round"><path d="M13 903.5 l3.4 -2 v17"/><path d="M22.5 911.5 c1.5 7 10.5 7.5 12.5 1"/><circle cx="30.6" cy="903.4" r="3.6"/><circle cx="41.2" cy="902.6" r="3.9"/></g>
</svg>
</body>
</html>
